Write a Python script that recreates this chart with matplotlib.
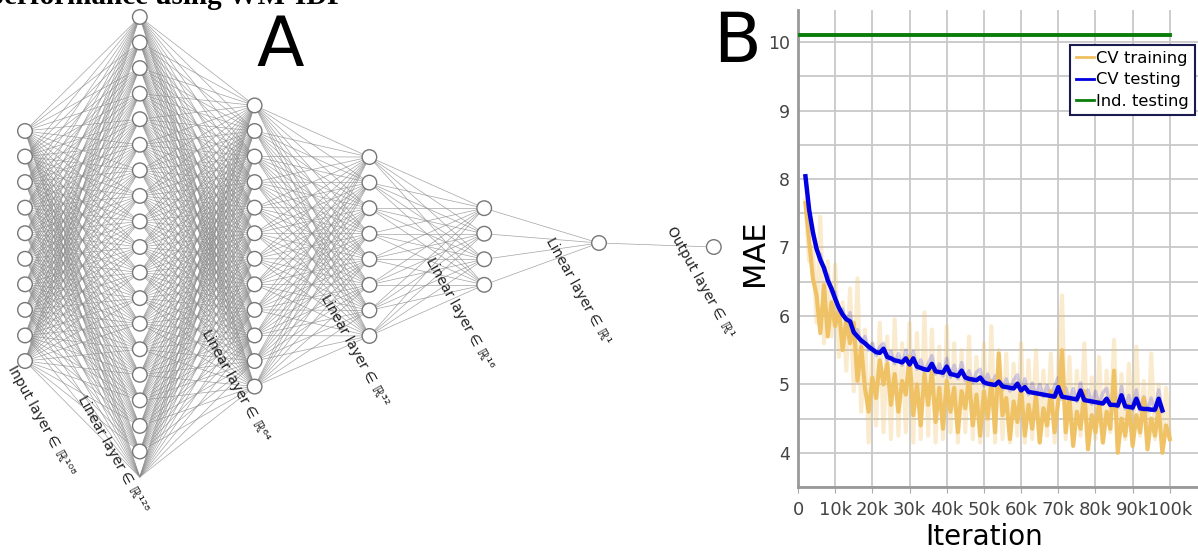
import numpy as np
import matplotlib
matplotlib.use("Agg")
import matplotlib.pyplot as plt
from matplotlib.collections import LineCollection
from matplotlib.patches import Circle
from matplotlib.lines import Line2D

# panel A: network layout
layer_sizes = [10, 19, 12, 8, 4, 1, 1]
layer_centers = [246, 247, 246, 246.5, 246.5, 243, 247]
layer_labels = ["Input layer ∈ ℝ¹⁰⁸", "Linear layer ∈ ℝ¹²⁸", "Linear layer ∈ ℝ⁶⁴",
                "Linear layer ∈ ℝ³²", "Linear layer ∈ ℝ¹⁶", "Linear layer ∈ ℝ¹",
                "Output layer ∈ ℝ¹"]
label_pos = [(41, 421), (113, 454), (236, 386), (355, 351), (460, 314), (578, 291), (700, 282)]

# panel B: MAE curves (iterations in thousands)
train_x = list(range(2, 101))
train_smooth = [7.65, 7.10, 6.55, 6.30, 5.75, 6.45, 5.70, 6.20, 5.85, 6.10,
                5.50, 5.95, 5.60, 5.90, 5.05, 5.55, 4.95, 4.60, 5.10, 4.80,
                5.35, 5.00, 5.30, 4.70, 5.15, 4.60, 5.05, 4.85, 5.40, 4.55,
                5.00, 4.40, 5.15, 4.70, 5.20, 4.45, 4.95, 4.35, 5.05, 4.60,
                4.95, 4.30, 4.90, 4.65, 5.10, 4.40, 4.85, 4.25, 4.90, 4.50,
                5.05, 4.30, 5.45, 4.55, 4.80, 4.20, 4.75, 4.45, 4.95, 4.25,
                4.70, 4.35, 4.85, 4.15, 4.65, 4.40, 4.90, 4.30, 4.75, 5.50,
                4.30, 4.80, 4.10, 4.60, 4.35, 4.90, 4.05, 4.55, 4.30, 4.75,
                4.15, 4.60, 4.35, 5.20, 4.00, 4.50, 4.25, 4.70, 4.10, 4.55,
                4.30, 4.80, 4.05, 4.50, 4.25, 4.65, 4.00, 4.40, 4.20]
train_raw = [7.70, 6.80, 7.00, 5.90, 7.45, 5.60, 6.80, 5.70, 6.75, 5.40,
             6.20, 5.20, 6.40, 4.90, 6.55, 4.60, 5.80, 4.15, 5.60, 4.40,
             5.90, 4.30, 5.70, 4.20, 5.95, 4.25, 5.60, 4.30, 5.90, 4.15,
             5.75, 4.20, 6.05, 4.25, 5.80, 4.15, 5.55, 4.20, 5.85, 4.30,
             5.60, 4.15, 5.50, 4.30, 5.70, 4.20, 5.40, 4.15, 5.60, 4.25,
             5.85, 4.15, 5.50, 4.20, 5.45, 4.15, 5.30, 4.25, 5.60, 4.15,
             5.35, 4.20, 5.50, 4.15, 5.20, 4.25, 5.45, 4.15, 5.30, 6.30,
             4.20, 5.40, 4.15, 5.20, 4.25, 5.60, 4.10, 5.10, 4.20, 5.40,
             4.15, 5.20, 4.30, 5.65, 4.10, 5.15, 4.20, 5.30, 4.15, 5.55,
             4.25, 5.05, 4.15, 5.45, 4.20, 5.00, 4.15, 4.95, 4.25]
test_x = list(range(2, 99))
test_smooth = [8.04, 7.55, 7.22, 6.98, 6.82, 6.70, 6.52, 6.40, 6.25, 6.12,
               6.02, 5.95, 5.92, 5.76, 5.70, 5.64, 5.60, 5.55, 5.51, 5.47,
               5.46, 5.52, 5.40, 5.38, 5.35, 5.34, 5.32, 5.38, 5.29, 5.38,
               5.26, 5.24, 5.22, 5.21, 5.30, 5.19, 5.18, 5.17, 5.26, 5.15,
               5.14, 5.12, 5.20, 5.10, 5.08, 5.07, 5.06, 5.10, 5.03, 5.01,
               5.00, 4.99, 5.04, 4.97, 4.96, 4.95, 4.94, 5.01, 4.91, 4.96,
               4.89, 4.88, 4.87, 4.86, 4.85, 4.84, 4.83, 4.82, 4.96, 4.82,
               4.81, 4.80, 4.79, 4.78, 4.91, 4.77, 4.76, 4.75, 4.74, 4.73,
               4.72, 4.79, 4.70, 4.70, 4.69, 4.84, 4.68, 4.67, 4.66, 4.79,
               4.65, 4.64, 4.64, 4.63, 4.63, 4.79, 4.62]
test_raw = [8.04, 7.50, 7.30, 6.95, 6.90, 6.65, 6.60, 6.35, 6.35, 6.05,
            6.10, 5.90, 6.05, 5.70, 5.80, 5.60, 5.70, 5.50, 5.60, 5.42,
            5.55, 5.60, 5.35, 5.48, 5.30, 5.45, 5.28, 5.50, 5.25, 5.48,
            5.22, 5.36, 5.18, 5.30, 5.42, 5.15, 5.30, 5.12, 5.38, 5.10,
            5.28, 5.08, 5.32, 5.05, 5.20, 5.02, 5.18, 5.22, 4.98, 5.15,
            4.96, 5.12, 5.16, 4.92, 5.08, 4.90, 5.06, 5.14, 4.88, 5.08,
            4.85, 5.02, 4.83, 5.00, 4.82, 4.98, 4.80, 4.97, 5.10, 4.78,
            4.95, 4.76, 4.94, 4.75, 5.02, 4.73, 4.92, 4.71, 4.90, 4.70,
            4.88, 4.94, 4.67, 4.86, 4.66, 4.97, 4.64, 4.84, 4.63, 4.92,
            4.62, 4.82, 4.61, 4.80, 4.60, 4.92, 4.60]
ind_x = [0, 100]
ind_test = [10.1, 10.1]
xtick_vals = list(range(0, 101, 10))
xtick_labels = ["0"] + [f"{v}k" for v in range(10, 101, 10)]

W, H = 1198, 552
fig = plt.figure(figsize=(W / 100, H / 100), dpi=100)

# ---- panel A ----
axA = fig.add_axes([0, 0, 1, 1])
axA.set_xlim(0, W)
axA.set_ylim(H, 0)
axA.axis("off")

spacing = 25.56
x0, dx = 25, 114.8
nodes = []
for i, (n, cy) in enumerate(zip(layer_sizes, layer_centers)):
    x = x0 + i * dx
    ys = cy + (np.arange(n) - (n - 1) / 2) * spacing
    nodes.append([(x, y) for y in ys])

segs = []
for a, b in zip(nodes[:-1], nodes[1:]):
    for p in a:
        for q in b:
            segs.append([p, q])
axA.add_collection(LineCollection(segs, colors="#8c8c8c", linewidths=0.5, alpha=0.8, zorder=1))

for i, layer in enumerate(nodes):
    for j, (x, y) in enumerate(layer):
        if i == 1 and j == len(layer) - 1:
            continue  # last slot of the 128 layer has no circle
        axA.add_patch(Circle((x, y), 7.3, facecolor="white", edgecolor="#777777", lw=1.0, zorder=2))

for lab, (lx, ly) in zip(layer_labels, label_pos):
    axA.text(lx, ly, lab, rotation=-61, rotation_mode="anchor", ha="center", va="center",
             fontsize=10, color="#222222")

axA.text(280, 47, "A", fontsize=50, ha="center", va="center", color="black")
axA.text(737, 42, "B", fontsize=50, ha="center", va="center", color="black")
fig.text(-12 / W, 1 - 3.5 / H, "performance using WM-IDF", fontsize=21, fontweight="bold",
         family=["Liberation Serif", "DejaVu Serif"], ha="left", va="baseline")

# ---- panel B ----
axB = fig.add_axes([798 / W, 65 / H, 409 / W, 477 / H])
axB.plot(train_x, train_raw, color="#f0c060", lw=3, alpha=0.3, zorder=2)
axB.plot(test_x, test_raw, color="#0000e0", lw=2.5, alpha=0.18, zorder=3)
axB.plot(train_x, train_smooth, color="#f0c060", lw=3, alpha=0.95, zorder=4)
axB.plot(test_x, test_smooth, color="#0000e0", lw=3.2, zorder=5)
axB.plot(ind_x, ind_test, color="#0a7d0a", lw=2.8, zorder=5)

axB.set_xlim(0, 110)
axB.set_ylim(3.5, 10.47)
axB.set_xticks(xtick_vals)
axB.set_xticklabels(xtick_labels)
axB.set_yticks(range(4, 11))
axB.set_yticks(np.arange(3.5, 10.5, 0.5), minor=True)
axB.grid(True, which="both", color="#c8c8c8", lw=1.3)
axB.grid(False, which="minor", axis="x")
axB.set_axisbelow(True)
axB.tick_params(axis="y", which="both", length=0, labelsize=12.5, labelcolor="#444444", pad=6)
axB.tick_params(axis="x", length=4, color="#aaaaaa", labelsize=13, labelcolor="#444444", pad=6)
for s in ["top", "right"]:
    axB.spines[s].set_visible(False)
for s in ["left", "bottom"]:
    axB.spines[s].set_color("#999999")
    axB.spines[s].set_linewidth(2)
axB.set_ylabel("MAE", fontsize=22)
axB.set_xlabel("Iteration", fontsize=20)
axB.yaxis.set_label_coords((755 - 798) / 409, (487 - 253) / 477)
axB.xaxis.set_label_coords((984 - 798) / 409, (487 - 537) / 477)
axB.xaxis.label.set_va("center")
axB.yaxis.label.set_va("center")

handles = [Line2D([], [], color="#f0c060", lw=2),
           Line2D([], [], color="#0000e0", lw=2),
           Line2D([], [], color="#0a7d0a", lw=2)]
leg = axB.legend(handles, ["CV training", "CV testing", "Ind. testing"], loc="upper left",
                 bbox_to_anchor=((1070 - 798) / 409, (487 - 45) / 477), borderaxespad=0,
                 fontsize=11.8, handlelength=1.1, handletextpad=0.15, borderpad=0.35,
                 labelspacing=0.4, fancybox=False, framealpha=1)
leg.get_frame().set_edgecolor("#1a1a50")
leg.get_frame().set_linewidth(1.5)

fig.savefig("out.png", dpi=100)
